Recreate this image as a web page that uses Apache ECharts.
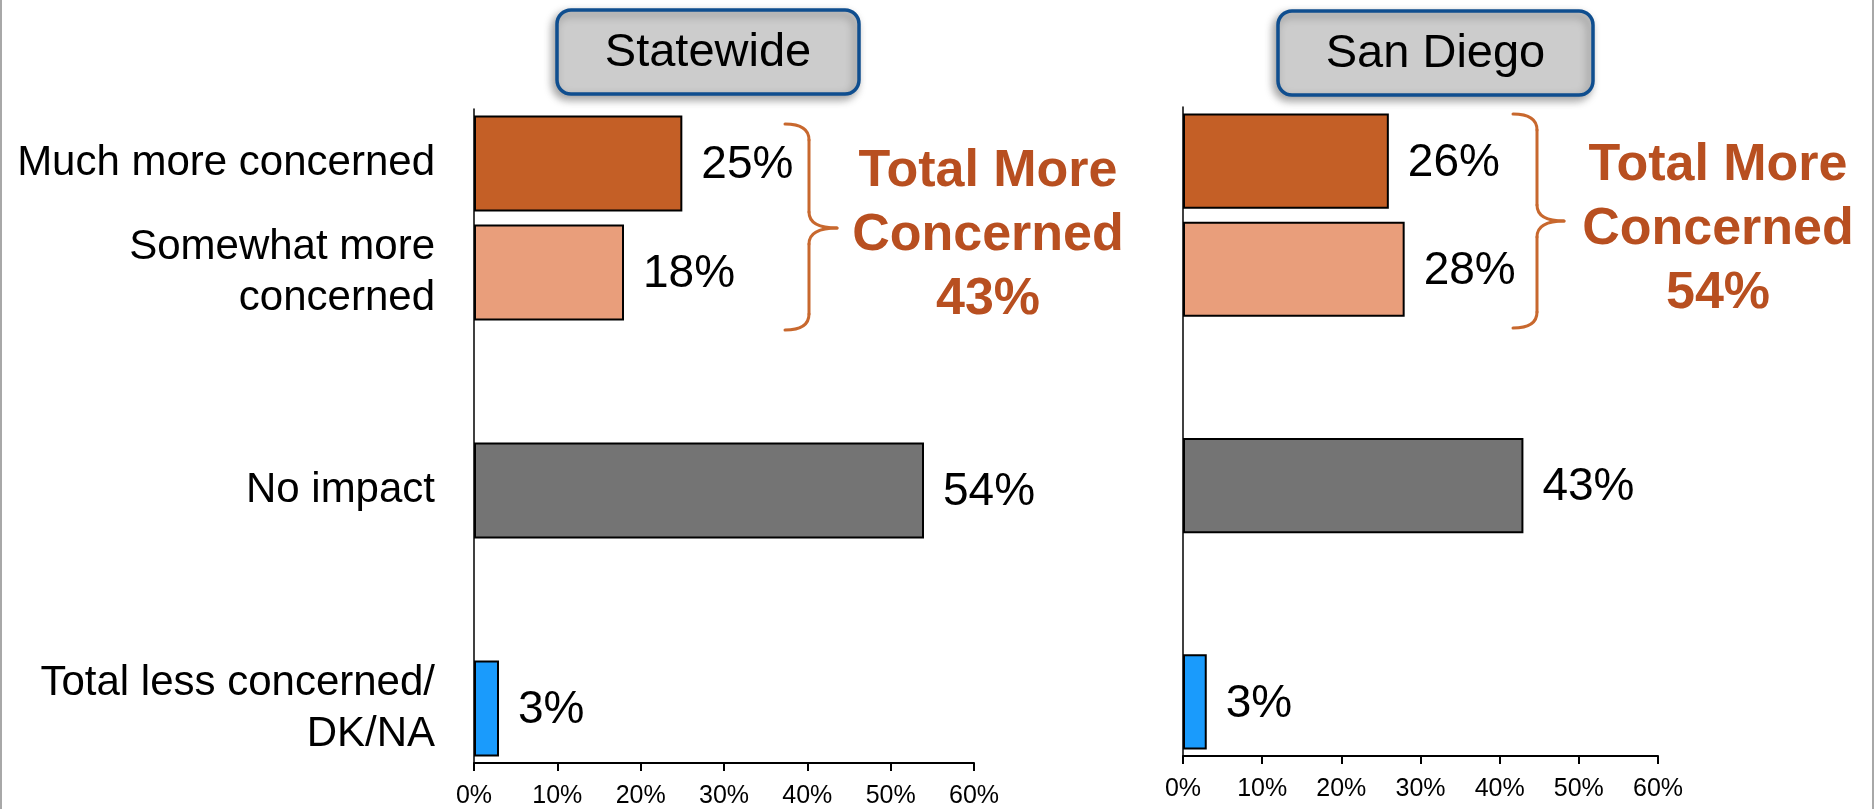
<!DOCTYPE html>
<html>
<head>
<meta charset="utf-8">
<script src="https://cdn.jsdelivr.net/npm/echarts@6/dist/echarts.min.js"></script>
<style>
html,body{margin:0;padding:0;background:#fff;}
#chart{width:1875px;height:809px;}
</style>
</head>
<body>
<div id="chart"></div>
<script>
// ---- data ----
const categories = ['Much more concerned', 'Somewhat more\nconcerned', '', 'No impact', '', 'Total less concerned/\nDK/NA'];
const statewide = [25, 18, null, 54, null, 3];
const sanDiego = [26, 28, null, 43, null, 3];
const barColors = ['#C45F26', '#E99E7B', null, '#747474', null, '#1A9BFC'];
const panelTitles = ['Statewide', 'San Diego'];
const annotationWords = ['Total More', 'Concerned'];
const xMin = 0, xMax = 60, xStep = 10;

const FONT = '"Liberation Sans", Arial, sans-serif';
const ORANGE_TEXT = '#B84F20';
const BRACE = '#C8682E';

function toData(vals) {
  return vals.map((v, i) => v == null ? '-' : { value: v, itemStyle: { color: barColors[i] } });
}
function sumMore(vals) { return vals[0] + vals[1]; }

const chart = echarts.init(document.getElementById('chart'), null, { renderer: 'canvas' });

function xAxisCfg(gridIndex) {
  return {
    type: 'value', gridIndex, min: xMin, max: xMax, interval: xStep,
    axisLine: { show: true, lineStyle: { color: '#000', width: 2 } },
    axisTick: { show: true, length: 8, lineStyle: { color: '#000', width: 2 } },
    splitLine: { show: false },
    axisLabel: { formatter: '{value}%', color: '#000', fontSize: 25, fontFamily: FONT, margin: 21 }
  };
}
function yAxisCfg(gridIndex, showLabels) {
  return {
    type: 'category', gridIndex, data: categories, inverse: true,
    axisLine: { show: true, lineStyle: { color: '#000', width: 1.5 } },
    axisTick: { show: false },
    axisLabel: { show: showLabels, color: '#000', fontSize: 42, lineHeight: 51, fontFamily: FONT, margin: 39 }
  };
}
function barSeries(idx, vals) {
  return {
    type: 'bar', xAxisIndex: idx, yAxisIndex: idx, data: toData(vals),
    barCategoryGap: '12%',
    itemStyle: { borderColor: '#000', borderWidth: 2 },
    label: { show: true, position: 'right', distance: 19, offset: [0, 2], color: '#000', fontSize: 46, fontFamily: FONT,
             formatter: p => p.value + '%' },
    silent: true, animation: false
  };
}

function titleBox(x, y, w, h, text) {
  return {
    type: 'group', children: [
      { type: 'rect', shape: { x, y, width: w, height: h, r: 14 },
        style: { fill: '#CCCCCC', stroke: '#0F4E8F', lineWidth: 3.5,
                 shadowBlur: 8, shadowColor: 'rgba(0,0,0,0.35)', shadowOffsetX: -3, shadowOffsetY: 4 } },
      { type: 'text', x: x + w / 2, y: y + h / 2 + 1,
        style: { text, fill: '#000', font: '47px ' + FONT, align: 'center', verticalAlign: 'middle' } }
    ]
  };
}
function brace(x0, yTop, yBot, xTip, yTip) {
  const xv = x0 + 24, r = 16;
  const st = { stroke: BRACE, lineWidth: 3, fill: null, lineCap: 'round' };
  return {
    type: 'group', children: [
      { type: 'bezierCurve', shape: { x1: x0, y1: yTop, cpx1: xv, cpy1: yTop, x2: xv, y2: yTop + r }, style: st },
      { type: 'line', shape: { x1: xv, y1: yTop + r, x2: xv, y2: yTip - r }, style: st },
      { type: 'bezierCurve', shape: { x1: xv, y1: yTip - r, cpx1: xv, cpy1: yTip, x2: xTip, y2: yTip }, style: st },
      { type: 'bezierCurve', shape: { x1: xTip, y1: yTip, cpx1: xv, cpy1: yTip, x2: xv, y2: yTip + r }, style: st },
      { type: 'line', shape: { x1: xv, y1: yTip + r, x2: xv, y2: yBot - r }, style: st },
      { type: 'bezierCurve', shape: { x1: xv, y1: yBot - r, cpx1: xv, cpy1: yBot, x2: x0, y2: yBot }, style: st }
    ]
  };
}
function annotation(cx, cy, total) {
  return {
    type: 'text', x: cx, y: cy,
    style: { text: annotationWords.join('\n') + '\n' + total + '%', fill: ORANGE_TEXT,
             font: 'bold 52px ' + FONT, lineHeight: 64, align: 'center', verticalAlign: 'middle' }
  };
}

chart.setOption({
  animation: false,
  backgroundColor: '#fff',
  grid: [
    { left: 474, top: 109, width: 500, height: 655, containLabel: false },
    { left: 1183, top: 107, width: 475, height: 649, containLabel: false }
  ],
  xAxis: [xAxisCfg(0), xAxisCfg(1)],
  yAxis: [yAxisCfg(0, true), yAxisCfg(1, false)],
  series: [barSeries(0, statewide), barSeries(1, sanDiego)],
  graphic: [
    { type: 'rect', shape: { x: 0, y: 0, width: 2, height: 809 }, style: { fill: '#A8A8A8' } },
    { type: 'rect', shape: { x: 1872, y: 0, width: 2, height: 809 }, style: { fill: '#A8A8A8' } },
    titleBox(557, 10, 302, 84, panelTitles[0]),
    titleBox(1278, 11, 315, 84, panelTitles[1]),
    brace(785, 124, 330, 837, 228),
    brace(1513, 114, 328, 1564, 221),
    annotation(988, 236, sumMore(statewide)),
    annotation(1718, 230, sumMore(sanDiego))
  ]
});
</script>
</body>
</html>
